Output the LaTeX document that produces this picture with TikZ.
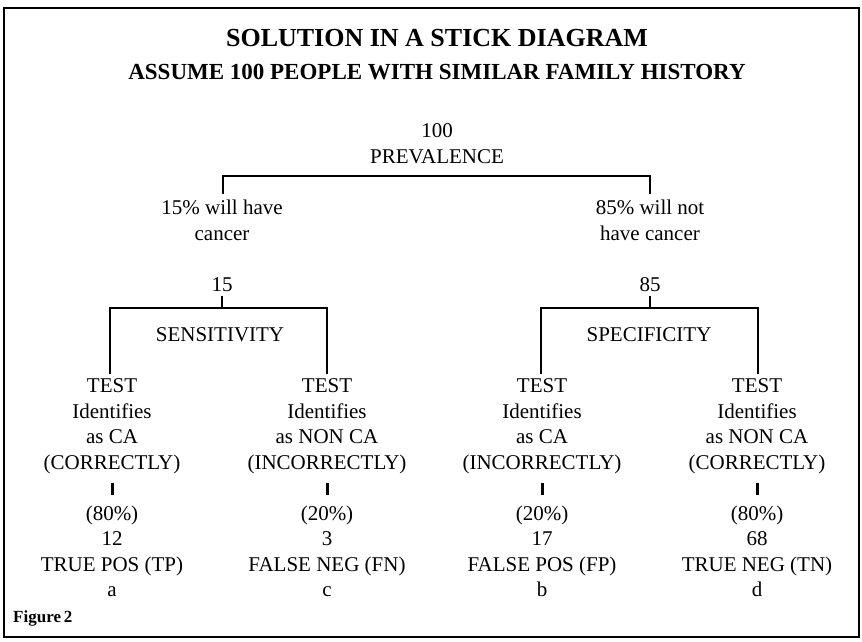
\documentclass[tikz,border=0pt]{standalone}
\usepackage{fontspec}
\setmainfont{Liberation Serif}
\begin{document}
\begin{tikzpicture}[x=1pt,y=-1pt,
  txt/.style={anchor=base,align=center,inner sep=0pt,font=\fontsize{21}{25.5}\selectfont},
  stick/.style={line width=1.8pt,line join=miter,line cap=rect},
  tick/.style={line width=3pt},
  frame/.style={line width=2pt}]
\useasboundingbox (0,0) rectangle (862,642);
\draw[frame] (4,8) rectangle (859,637);
% titles
\node[anchor=base,inner sep=0pt,font=\fontsize{26}{30}\selectfont\bfseries] (title) at (437,47) {SOLUTION IN A STICK DIAGRAM};
\node[anchor=base,inner sep=0pt,font=\fontsize{23}{27}\selectfont\bfseries] (sub) at (437,79) {ASSUME 100 PEOPLE WITH SIMILAR FAMILY HISTORY};
% level 0 (base anchor = baseline of last line)
\node[txt] (prev) at (437,163) {100\\PREVALENCE};
\coordinate (b1l) at (223,193);
\coordinate (b1lt) at (223,176);
\coordinate (b1rt) at (650,176);
\coordinate (b1r) at (650,193);
\draw[stick] (b1l) -- (b1lt) -- (b1rt) -- (b1r);
% level 1
\node[txt] (have) at (222,240) {15\% will have\\cancer};
\node[txt] (havenot) at (650,240) {85\% will not\\have cancer};
\node[txt] (n15) at (222,291) {15};
\node[txt] (n85) at (650,291) {85};
% left bracket
\coordinate (s1t) at (222,297);
\coordinate (s1b) at (222,308);
\coordinate (l1) at (110,373);
\coordinate (l1t) at (110,308);
\coordinate (l2t) at (327,308);
\coordinate (l2) at (327,373);
\draw[stick] (s1t) -- (s1b);
\draw[stick] (l1) -- (l1t) -- (l2t) -- (l2);
% right bracket
\coordinate (s2t) at (650,297);
\coordinate (s2b) at (650,308);
\coordinate (r1) at (541,373);
\coordinate (r1t) at (541,308);
\coordinate (r2t) at (758,308);
\coordinate (r2) at (758,373);
\draw[stick] (s2t) -- (s2b);
\draw[stick] (r1) -- (r1t) -- (r2t) -- (r2);
\node[txt] (sens) at (220,341) {SENSITIVITY};
\node[txt] (spec) at (649,341) {SPECIFICITY};
% test blocks
\node[txt] (t1) at (112,469) {TEST\\Identifies\\as CA\\(CORRECTLY)};
\node[txt] (t2) at (327,469) {TEST\\Identifies\\as NON CA\\(INCORRECTLY)};
\node[txt] (t3) at (542,469) {TEST\\Identifies\\as CA\\(INCORRECTLY)};
\node[txt] (t4) at (757,469) {TEST\\Identifies\\as NON CA\\(CORRECTLY)};
\node[txt] (o1) at (112,596.5) {(80\%)\\12\\TRUE POS (TP)\\a};
\node[txt] (o2) at (327,596.5) {(20\%)\\3\\FALSE NEG (FN)\\c};
\node[txt] (o3) at (542,596.5) {(20\%)\\17\\FALSE POS (FP)\\b};
\node[txt] (o4) at (757,596.5) {(80\%)\\68\\TRUE NEG (TN)\\d};
\foreach \i in {1,2,3,4}{
  \draw[tick] (t\i.south |- 0,483) -- (o\i.north |- 0,495);
}
\node[anchor=base west,inner sep=0pt,font=\fontsize{17}{20}\selectfont\bfseries] (fig) at (13,622) {Figure\,2};
\end{tikzpicture}
\end{document}
